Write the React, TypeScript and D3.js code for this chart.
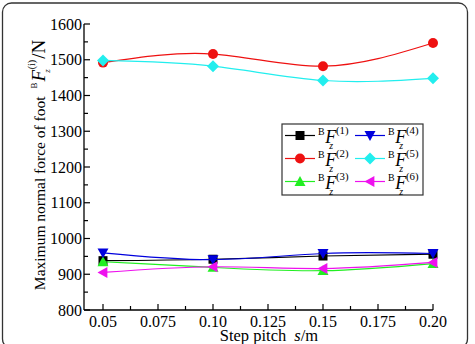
import React from "react";
import * as d3 from "d3";

// Step pitch values (m)
const steps = [0.05, 0.1, 0.15, 0.2];
// Maximum normal force of each foot (N)
const foot1 = [938, 942, 951, 956];
const foot2 = [1492, 1516, 1482, 1547];
const foot3 = [935, 919, 910, 930];
const foot4 = [960, 941, 958, 958];
const foot5 = [1498, 1482, 1442, 1448];
const foot6 = [905, 921, 916, 933];

const xMajor = [0.05, 0.075, 0.1, 0.125, 0.15, 0.175, 0.2];
const xMajorLabels = ["0.05", "0.075", "0.10", "0.125", "0.15", "0.175", "0.20"];
const yMajor = [800, 900, 1000, 1100, 1200, 1300, 1400, 1500, 1600];

type Series = { idx: number; values: number[]; color: string; symbol: string };

const series: Series[] = [
  { idx: 1, values: foot1, color: "#000000", symbol: "square" },
  { idx: 2, values: foot2, color: "#ee1111", symbol: "circle" },
  { idx: 3, values: foot3, color: "#22ee22", symbol: "triUp" },
  { idx: 4, values: foot4, color: "#0000dd", symbol: "triDown" },
  { idx: 5, values: foot5, color: "#22eeee", symbol: "diamond" },
  { idx: 6, values: foot6, color: "#ee11ee", symbol: "triLeft" },
];

const FONT = "Liberation Serif, Times New Roman, DejaVu Serif, serif";

const x = d3.scaleLinear().domain([0.05, 0.2]).range([103, 433]);
const y = d3.scaleLinear().domain([800, 1600]).range([310, 24]);
const axisLeft = 84;

function Marker({ cx, cy, kind, color }: { cx: number; cy: number; kind: string; color: string }) {
  const r = 5.5;
  if (kind === "square") return <rect x={cx - 4.5} y={cy - 4.5} width={9} height={9} fill={color} />;
  if (kind === "circle") return <circle cx={cx} cy={cy} r={5} fill={color} />;
  let pts: [number, number][] = [];
  if (kind === "triUp") pts = [[cx, cy - r], [cx + r, cy + r * 0.8], [cx - r, cy + r * 0.8]];
  if (kind === "triDown") pts = [[cx, cy + r], [cx + r, cy - r * 0.8], [cx - r, cy - r * 0.8]];
  if (kind === "triLeft") pts = [[cx - r, cy], [cx + r * 0.8, cy - r], [cx + r * 0.8, cy + r]];
  if (kind === "diamond") pts = [[cx, cy - 6], [cx + 6, cy], [cx, cy + 6], [cx - 6, cy]];
  return <polygon points={pts.map((p) => p.join(",")).join(" ")} fill={color} />;
}

// Force symbol  ^B F_z^(i), laid out as separate pieces
function ForceLabel({ x0, y0, idx, size }: { x0: number; y0: number; idx: string; size: number }) {
  const s = size;
  return (
    <g fontFamily={FONT} fill="#000">
      <text x={x0} y={y0 - s * 0.42} fontSize={s * 0.55}>B</text>
      <text x={x0 + s * 0.4} y={y0} fontSize={s} fontStyle="italic">F</text>
      <text x={x0 + s * 0.62} y={y0 + s * 0.36} fontSize={s * 0.55} fontStyle="italic">z</text>
      <text x={x0 + s * 1.0} y={y0 - s * 0.48} fontSize={s * 0.6}>({idx})</text>
    </g>
  );
}

export default function App() {
  const line = d3
    .line<number>()
    .x((_, i) => x(steps[i]))
    .y((v) => y(v))
    .curve(d3.curveNatural);

  const xMinor = xMajor.slice(0, -1).map((v) => v + 0.0125);
  const yMinor = yMajor.slice(0, -1).map((v) => v + 50);

  const legendRows = [
    [series[0], series[3]],
    [series[1], series[4]],
    [series[2], series[5]],
  ];
  const rowY = [135.5, 158.5, 181.5];

  return (
    <svg width={475} height={344} style={{ position: "absolute", left: 0, top: 0, fontFamily: FONT }}>
      <rect x={0} y={0} width={475} height={344} fill="#fff" />
      <rect x={2.5} y={3} width={465} height={345} rx={9} ry={9} fill="none" stroke="#333" strokeWidth={1.3} />

      {/* axes */}
      <line x1={axisLeft} x2={axisLeft} y1={y(1600)} y2={y(800)} stroke="#000" strokeWidth={1.3} />
      <line x1={axisLeft} x2={x(0.2)} y1={y(800)} y2={y(800)} stroke="#000" strokeWidth={1.3} />
      {yMajor.map((v) => (
        <g key={"ym" + v}>
          <line x1={axisLeft} x2={axisLeft + 6} y1={y(v)} y2={y(v)} stroke="#000" strokeWidth={1.2} />
          <text x={axisLeft - 2} y={y(v) + 5.5} textAnchor="end" fontSize={16} fontFamily={FONT}>
            {v}
          </text>
        </g>
      ))}
      {yMinor.map((v) => (
        <line key={"yn" + v} x1={axisLeft} x2={axisLeft + 4} y1={y(v)} y2={y(v)} stroke="#000" strokeWidth={1.2} />
      ))}
      {xMajor.map((v, i) => (
        <g key={"xm" + v}>
          <line x1={x(v)} x2={x(v)} y1={y(800)} y2={y(800) - 6} stroke="#000" strokeWidth={1.2} />
          <text x={x(v)} y={327} textAnchor="middle" fontSize={16} fontFamily={FONT}>
            {xMajorLabels[i]}
          </text>
        </g>
      ))}
      {xMinor.map((v) => (
        <line key={"xn" + v} x1={x(v)} x2={x(v)} y1={y(800)} y2={y(800) - 4} stroke="#000" strokeWidth={1.2} />
      ))}

      <text x={269} y={341} textAnchor="middle" fontSize={16.5} fontFamily={FONT}>
        Step pitch <tspan fontStyle="italic" dx={4}>s</tspan>/m
      </text>

      <g transform="translate(45,165) rotate(-90)">
        <text x={0} y={0} textAnchor="middle" fontSize={15.5} fontFamily={FONT}>
          Maximum normal force of foot
          <tspan dx={8} fontSize={9} dy={-8}>B</tspan>
          <tspan fontSize={19} fontStyle="italic" dx={1} dy={8}>F</tspan>
          <tspan fontSize={9} fontStyle="italic" dx={-3} dy={5}>z</tspan>
          <tspan fontSize={10} dx={0} dy={-15}>(i)</tspan>
          <tspan fontSize={19} dx={1} dy={10}>/N</tspan>
        </text>
      </g>

      {/* series */}
      {series.map((s) => (
        <g key={"s" + s.idx}>
          <path d={line(s.values) || ""} fill="none" stroke={s.color} strokeWidth={1.2} />
          {s.values.map((v, i) => (
            <Marker key={i} cx={x(steps[i])} cy={y(v)} kind={s.symbol} color={s.color} />
          ))}
        </g>
      ))}

      {/* legend */}
      <rect x={282} y={124} width={141} height={71} fill="#fff" stroke="#333" strokeWidth={1.2} />
      {legendRows.map((row, ri) =>
        row.map((s, ci) => {
          const lx = ci === 0 ? 285 : 355;
          return (
            <g key={"lg" + s.idx}>
              <line x1={lx} x2={lx + 30} y1={rowY[ri]} y2={rowY[ri]} stroke={s.color} strokeWidth={1.2} />
              <Marker cx={lx + 15} cy={rowY[ri]} kind={s.symbol} color={s.color} />
              <ForceLabel x0={lx + 33} y0={rowY[ri] + 7} idx={String(s.idx)} size={18} />
            </g>
          );
        })
      )}
    </svg>
  );
}
